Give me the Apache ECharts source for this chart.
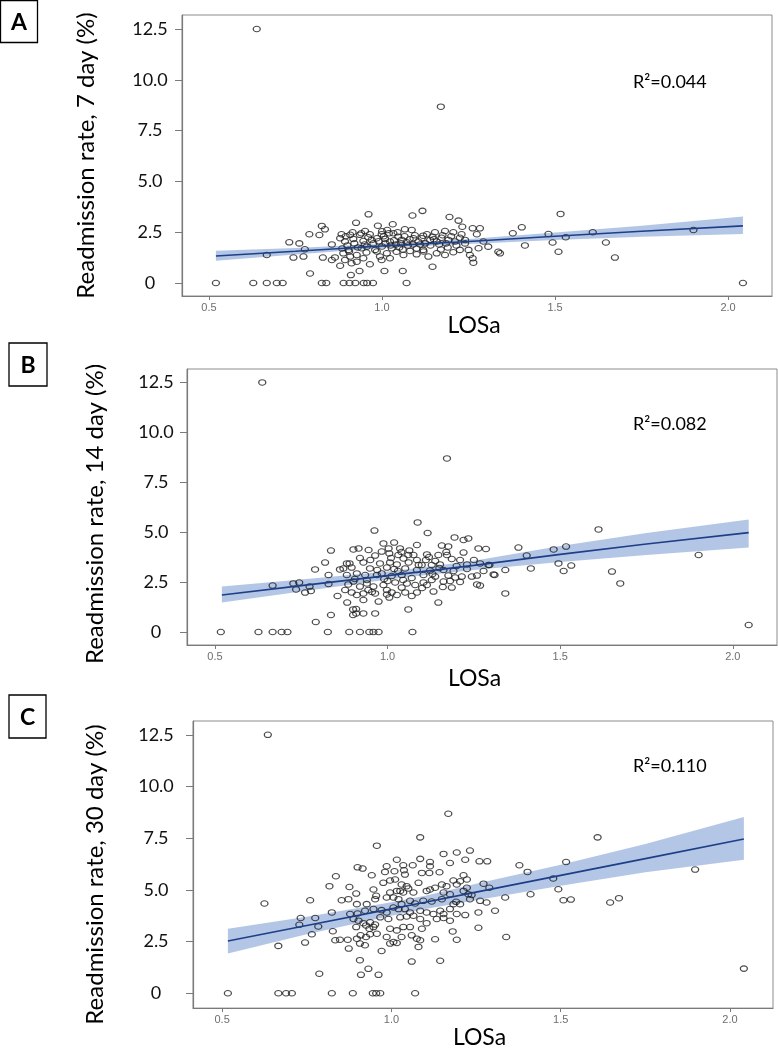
<!DOCTYPE html>
<html><head><meta charset="utf-8">
<script src="https://cdn.jsdelivr.net/npm/echarts@6/dist/echarts.min.js"></script>
<style>html,body{margin:0;padding:0;background:#fff}#chart{width:778px;height:1050px}</style>
</head><body><div id="chart"></div>
<script>
// ---------- data ----------
const yTickValues = [0, 2.5, 5, 7.5, 10, 12.5];
const yTickLabels = ['0', '2.5', '5.0', '7.5', '10.0', '12.5'];
const xTickValues = [0.5, 1.0, 1.5, 2.0];
const xTickLabels = ['0.5', '1.0', '1.5', '2.0'];
const panelLetters = ['A', 'B', 'C'];
const yTitles = ['Readmission rate, 7 day (%)', 'Readmission rate, 14 day (%)', 'Readmission rate, 30 day (%)'];
const xTitle = 'LOSa';
const r2Labels = ['R\u00b2=0.044', 'R\u00b2=0.082', 'R\u00b2=0.110'];

// [LOSa, readmission rate %]
const pointsA = [
[0.520,0],[0.628,0],[0.667,0],[0.696,0],[0.713,0],[0.826,0],[0.839,0],[0.889,0],[0.906,0],[0.923,0],[0.947,0],[0.957,0],[0.974,0],[1.071,0],[2.043,0],
[0.638,12.5],[1.170,8.68],
[0.667,1.38],[0.732,2.00],[0.761,1.95],[0.744,1.25],[0.773,1.30],[0.777,1.66],[0.790,2.40],[0.819,2.36],[0.792,0.47],[0.826,2.81],[0.835,2.64],[0.829,1.25],[0.855,1.13],[0.864,1.26],
[0.961,3.38],[1.117,3.55],[1.088,3.32],[1.195,3.25],[1.221,3.07],[0.925,2.96],[0.988,2.82],[1.031,2.89],[1.232,2.77],[1.262,2.69],[1.283,2.69],[1.066,2.64],[1.086,2.61],[1.015,2.61],[0.951,2.56],[1.153,2.50],[1.182,2.56],[1.206,2.50],[1.274,2.40],[0.883,2.40],[0.908,2.37],[0.936,2.37],[0.965,2.40],[0.999,2.40],[1.033,2.45],[1.047,2.28],[1.119,2.33],[1.146,2.28],[1.172,2.23],[1.225,2.23],
[0.855,1.90],[0.879,2.20],[0.893,2.04],[0.917,2.17],[0.946,2.07],[0.970,2.12],[0.985,2.20],[1.009,2.17],[1.023,2.04],[1.057,2.12],[1.071,2.00],[1.091,2.20],[1.105,2.04],[1.139,2.12],[1.158,2.04],[1.192,2.12],[1.211,2.04],[1.240,2.12],[1.293,2.04],[1.307,1.79],[1.279,1.71],[1.250,1.63],
[0.888,1.46],[0.903,1.63],[0.908,1.30],[0.927,1.38],[0.941,1.71],[0.956,1.79],[0.980,1.63],[0.994,1.30],[1.014,1.46],[1.028,1.71],[1.042,1.54],[1.062,1.38],[1.081,1.58],[1.100,1.41],[1.119,1.63],[1.134,1.30],[1.158,1.46],[1.182,1.38],[1.206,1.51],[1.225,1.63],[1.254,1.38],[1.262,1.22],[1.264,1.00],[1.341,1.46],[1.336,1.54],
[0.879,0.85],[0.910,0.39],[0.935,0.59],[0.965,0.92],[1.007,0.59],[1.060,0.59],[1.146,0.80],[0.912,0.97],[0.893,1.13],[0.927,1.05],[0.946,1.22],[0.999,1.13],[1.023,1.22],
[1.378,2.45],[1.404,2.74],[1.413,1.85],[1.481,2.41],[1.493,1.99],[1.510,1.54],[1.516,3.40],[1.531,2.25],[1.609,2.50],[1.647,1.99],[1.673,1.25],[1.900,2.61],
[0.900,1.85],[0.920,1.95],[0.930,1.75],[0.950,1.90],[0.960,2.25],[0.975,1.95],[0.990,2.05],[1.000,1.80],[1.005,2.30],[1.010,1.95],[1.020,2.45],[1.025,1.85],[1.035,2.10],[1.040,1.90],[1.045,2.50],[1.050,1.75],[1.055,1.95],[1.065,2.30],[1.075,1.85],[1.080,2.15],[1.090,1.90],[1.095,2.35],[1.110,1.90],[1.115,2.20],[1.125,1.95],[1.130,2.40],[1.140,1.85],[1.150,2.15],[1.165,1.90],[1.175,2.35],[1.185,1.95],[1.200,2.30],[1.215,1.85],[1.230,2.40],
[0.885,1.70],[0.895,2.30],[0.905,1.55],[0.915,2.50],[0.940,2.45],[0.955,1.50],[0.985,1.55],[1.000,2.55],[1.060,1.65],[1.100,1.70],[1.120,1.55],[1.170,1.65],[1.190,1.75],[1.240,1.95]
];

const pointsB = [
[0.517,0],[0.626,0],[0.667,0],[0.693,0],[0.710,0],[0.827,0],[0.889,0],[0.920,0],[0.947,0],[0.959,0],[0.974,0],[1.072,0],
[0.637,12.48],[1.172,8.68],[2.046,0.35],
[0.667,2.32],[0.727,2.43],[0.744,2.47],[0.735,2.13],[0.761,1.97],[0.774,2.27],[0.778,2.05],[0.790,3.13],[0.792,0.50],[0.819,3.47],[0.836,4.07],[0.829,2.85],[0.829,2.40],[0.836,0.85],[0.855,1.80],[0.862,3.13],[0.901,4.13],[0.916,4.18],[0.945,4.10],[0.962,5.07],[0.890,3.43],[0.883,1.47],[0.900,1.13],[0.900,0.85],[0.930,0.93],[0.964,0.93],[0.974,1.52],
[1.087,5.48],[1.116,4.95],[1.194,4.73],[1.220,4.60],[1.234,4.68],[0.988,4.43],[1.019,4.47],[1.085,4.35],[1.157,4.32],[1.176,4.28],[1.003,4.18],[1.036,4.18],[1.063,4.08],[1.263,4.18],[1.285,4.15],
[0.983,4.02],[1.005,3.93],[1.031,3.85],[1.075,3.85],[1.114,3.88],[1.147,3.85],[1.172,3.85],[1.220,3.97],[0.964,3.82],[1.046,3.68],[1.085,3.60],[1.111,3.60],[1.138,3.55],[1.186,3.65],[1.210,3.60],
[0.882,3.43],[0.930,3.48],[0.978,3.43],[1.007,3.48],[1.027,3.38],[1.061,3.48],[1.099,3.35],[1.128,3.35],[1.152,3.38],[1.230,3.38],[1.268,3.43],[1.295,3.35],
[0.872,3.18],[0.896,3.22],[0.949,3.18],[0.998,3.22],[1.019,3.15],[1.051,3.18],[1.085,3.10],[1.123,3.07],[1.162,3.10],[1.191,3.05],[1.230,3.15],[1.278,3.05],[1.307,2.88],
[0.882,2.85],[0.911,2.93],[0.935,2.85],[0.969,2.85],[0.983,2.93],[1.012,2.80],[1.041,2.85],[1.104,2.85],[1.138,2.77],[1.176,2.82],[1.196,2.72],[1.215,2.77],[1.244,2.77],[1.259,2.82],
[0.886,2.38],[0.901,2.52],[0.920,2.27],[0.940,2.43],[0.959,2.27],[0.988,2.35],[0.998,2.10],[1.022,2.48],[1.041,2.22],[1.056,2.43],[1.080,2.35],[1.104,2.48],[1.114,2.35],[1.128,2.60],[1.162,2.52],[1.181,2.55],[1.259,2.38],[1.268,2.32],
[0.877,2.10],[0.896,1.98],[0.911,1.85],[0.930,1.93],[0.944,2.10],[0.964,1.93],[0.998,1.88],[1.012,1.98],[1.027,1.85],[1.051,1.98],[1.085,1.98],[1.133,2.02],[1.186,2.22],
[0.930,1.60],[1.005,1.72],[1.070,1.80],[1.147,1.47],[1.341,1.93],[0.909,1.15],[0.909,0.93],[1.060,1.13],
[1.379,4.22],[1.403,3.82],[1.415,3.18],[1.341,3.10],[1.310,2.85],[1.292,3.35],[1.481,4.13],[1.495,3.43],[1.510,3.05],[1.517,4.27],[1.532,3.32],[1.611,5.13],[1.650,3.02],[1.674,2.43],[1.901,3.85],
[0.950,3.60],[0.970,3.10],[0.990,2.65],[1.010,3.70],[1.030,3.05],[1.045,2.60],[1.060,3.85],[1.070,2.70],[1.090,3.35],[1.100,2.20],[1.120,3.75],[1.130,2.90],[1.150,3.20],[1.160,2.25],[1.170,4.00],[1.200,3.30],[1.210,2.50],[1.250,3.60],[0.920,3.70],[0.905,2.65],[0.940,2.60],[0.955,2.00],[1.000,2.55],[1.040,4.00]
];

const pointsC = [
[0.517,0],[0.666,0],[0.689,0],[0.706,0],[0.824,0],[0.886,0],[0.945,0],[0.955,0],[0.967,0],[1.070,0],
[0.635,12.5],[1.168,8.68],[2.041,1.19],[0.625,4.34],[0.957,7.14],
[1.154,6.74],[1.193,6.81],[1.232,6.90],[0.900,6.09],[0.915,6.03],[0.986,6.14],[1.016,6.46],[1.035,6.19],[1.063,6.19],[1.085,6.50],[1.114,6.35],[1.114,6.14],[1.173,6.30],[1.218,6.46],[1.260,6.38],[1.283,6.38],
[0.836,5.66],[0.942,5.71],[0.981,5.87],[1.009,5.90],[1.037,5.95],[1.040,5.74],[1.090,5.82],[1.112,5.82],[1.142,5.85],[1.213,5.71],[1.183,5.45],[1.203,5.42],[1.223,5.50],[1.193,5.26],[1.223,5.10],
[0.817,5.18],[0.876,5.14],[0.947,5.02],[0.976,5.34],[0.996,5.45],[1.011,5.50],[1.030,5.26],[1.045,5.18],[1.050,5.07],[1.026,4.95],[1.080,5.34],[1.104,4.95],[1.129,5.10],[1.149,5.26],[1.163,5.18],[1.114,5.02],[1.272,5.30],[1.289,5.10],[1.336,4.63],
[0.996,4.87],[1.016,4.95],[1.035,4.87],[1.065,4.87],[1.154,4.87],[1.173,4.79],[1.213,4.95],[1.227,4.79],[1.237,4.75],[1.262,4.47],[1.232,4.55],[1.281,4.39],
[0.760,4.50],[0.853,4.50],[0.873,4.55],[0.896,4.82],[0.898,4.31],[0.927,4.31],[0.952,4.55],[0.955,4.71],[0.986,4.63],[1.006,4.63],[1.021,4.55],[1.030,4.31],[1.055,4.47],[1.070,4.34],[1.094,4.47],[1.119,4.44],[1.149,4.55],[1.183,4.31],[1.203,4.31],[1.191,4.42],
[0.824,3.91],[0.878,3.83],[0.900,3.86],[0.922,3.99],[0.947,4.07],[0.971,4.02],[0.986,3.91],[1.006,4.15],[1.021,4.07],[1.040,4.07],[1.055,3.91],[1.085,3.99],[1.104,3.91],[1.124,3.83],[1.144,3.99],[1.154,3.83],[1.173,4.07],[1.193,3.83],[1.218,3.78],[1.257,3.91],[1.306,3.99],
[0.732,3.64],[0.775,3.64],[0.827,3.00],[0.888,3.59],[0.903,3.51],[0.917,3.39],[0.937,3.43],[0.967,3.67],[0.991,3.59],[1.026,3.67],[1.045,3.71],[1.065,3.75],[1.085,3.59],[1.104,3.39],[1.134,3.59],[1.154,3.64],[1.173,3.51],
[0.728,3.31],[0.784,3.23],[0.896,3.20],[0.925,3.28],[0.935,3.12],[0.947,3.20],[0.952,3.32],[0.996,3.12],[1.016,3.04],[1.035,3.20],[1.055,3.20],[1.090,3.12],[1.257,3.17],[1.181,2.99],
[0.765,2.85],[0.871,2.59],[0.898,2.64],[0.909,2.80],[0.925,2.72],[0.937,2.85],[0.957,2.88],[0.986,2.72],[1.006,2.48],[1.030,2.72],[1.060,2.80],[1.075,2.64],[1.085,2.56],[1.129,2.61],[0.848,2.59],[0.834,2.56],
[0.745,2.45],[0.666,2.29],[0.907,2.40],[0.922,2.32],[0.996,2.40],[1.016,2.43],[1.080,2.24],[1.193,2.59],
[0.874,2.16],[0.971,2.04],[0.907,1.60],[1.060,1.53],[1.144,1.57],[0.910,0.89],[0.932,1.18],[0.962,0.89],[0.787,0.94],[1.339,2.72],
[1.085,7.54],[1.609,7.54],[1.378,6.19],[1.402,5.87],[1.516,6.35],[1.478,5.55],[1.493,5.03],[1.411,4.79],[1.508,4.50],[1.530,4.53],[1.646,4.39],[1.672,4.60],[1.897,5.98]
];

// fitted regression line and 95% band: [LOSa, fit, lower, upper]
const fitA = [[0.520,1.33,1.10,1.59],[0.750,1.56,1.40,1.72],[1.000,1.82,1.72,1.93],[1.100,1.91,1.81,2.01],[1.250,2.04,1.92,2.16],[1.500,2.30,2.12,2.48],[1.750,2.55,2.28,2.82],[2.043,2.81,2.41,3.27]];
const fitB = [[0.520,1.85,1.47,2.27],[0.750,2.32,2.02,2.62],[1.000,2.82,2.62,3.02],[1.100,3.02,2.83,3.22],[1.250,3.33,3.10,3.56],[1.500,3.88,3.50,4.30],[1.750,4.40,3.85,4.95],[2.046,4.97,4.22,5.63]];
const fitC = [[0.517,2.53,1.92,3.12],[0.750,3.28,2.85,3.70],[1.000,4.08,3.75,4.40],[1.100,4.40,4.08,4.72],[1.250,4.89,4.50,5.30],[1.500,5.70,5.20,6.22],[1.750,6.51,5.85,7.22],[2.041,7.46,6.46,8.52]];

// ---------- layout ----------
const FONT = "Lato, 'Open Sans', sans-serif";
const layouts = [
  {grid:{left:182, top:15, width:590, height:281}, x:[0.422,2.127], y:[-0.64,13.19], yLabelMargin:32, yNameGap:84, yNamePad:[0,0,0,0], xNameGap:12, xNamePad:[0,6,0,0], box:[0.5,0.5,37,42], r2:[633,82]},
  {grid:{left:187, top:369, width:590, height:276}, x:[0.419,2.128], y:[-0.65,13.15], yLabelMargin:31, yNameGap:80, yNamePad:[0,14,0,0], xNameGap:22, xNamePad:[0,15,0,0], box:[9,343,38,43], r2:[633,424]},
  {grid:{left:193, top:721, width:580, height:291}, x:[0.414,2.127], y:[-0.72,13.17], yLabelMargin:37, yNameGap:86, yNamePad:[0,20,0,0], xNameGap:16, xNamePad:[0,7,0,0], box:[9,695,37,43], r2:[633,766]}
];
const pointSets = [pointsA, pointsB, pointsC];
const fitSets = [fitA, fitB, fitC];

function lookup(values, labels, v) {
  for (let i = 0; i < values.length; i++) if (Math.abs(values[i] - v) < 1e-9) return labels[i];
  return '';
}

const grids = [], xAxes = [], yAxes = [], series = [], graphics = [];
layouts.forEach((L, i) => {
  grids.push(Object.assign({show:true, borderColor:'#8c8c8c', borderWidth:1, backgroundColor:'rgba(0,0,0,0)'}, L.grid));
  xAxes.push({
    gridIndex:i, type:'value', min:L.x[0], max:L.x[1],
    axisLine:{show:true, onZero:false, lineStyle:{color:'#7a7a7a', width:1.2}},
    axisTick:{show:true, customValues:xTickValues, length:4, lineStyle:{color:'#7a7a7a'}},
    axisLabel:{show:true, customValues:xTickValues, formatter:v => lookup(xTickValues, xTickLabels, v), color:'#6e6e6e', fontSize:11, fontFamily:"'Liberation Sans', Arial, sans-serif", margin:6},
    splitLine:{show:false},
    name:xTitle, nameLocation:'middle', nameGap:L.xNameGap,
    nameTextStyle:{fontFamily:FONT, fontSize:23, color:'#000', padding:L.xNamePad}
  });
  yAxes.push({
    gridIndex:i, type:'value', min:L.y[0], max:L.y[1],
    axisLine:{show:true, onZero:false, lineStyle:{color:'#7a7a7a', width:1.2}},
    axisTick:{show:true, customValues:yTickValues, length:7, lineStyle:{color:'#7a7a7a'}},
    axisLabel:{show:true, customValues:yTickValues, formatter:v => lookup(yTickValues, yTickLabels, v), color:'#111', fontSize:18, fontFamily:FONT, align:'center', margin:L.yLabelMargin},
    splitLine:{show:false},
    name:yTitles[i], nameLocation:'middle', nameRotate:90, nameGap:L.yNameGap,
    nameTextStyle:{fontFamily:FONT, fontSize:24, color:'#000', padding:L.yNamePad}
  });
  const fit = fitSets[i];
  series.push({
    type:'custom', xAxisIndex:i, yAxisIndex:i, silent:true, z:1,
    data: fit.map(r => [r[0], r[2], r[3]]),
    encode:{x:0, y:[1,2]},
    renderItem: function (params, api) {
      if (params.dataIndex !== 0) return null;
      const pts = [];
      for (let k = 0; k < fit.length; k++) pts.push(api.coord([fit[k][0], fit[k][3]]));
      for (let k = fit.length - 1; k >= 0; k--) pts.push(api.coord([fit[k][0], fit[k][2]]));
      return {type:'polygon', shape:{points:pts}, style:{fill:'rgba(118,152,208,0.55)'}};
    }
  });
  series.push({
    type:'scatter', xAxisIndex:i, yAxisIndex:i, z:2,
    data: pointSets[i], symbol:'circle', symbolSize:[7,5.5],
    itemStyle:{color:'rgba(255,255,255,0)', borderColor:'#1e1e1e', borderWidth:1.15}
  });
  series.push({
    type:'line', xAxisIndex:i, yAxisIndex:i, z:4,
    data: fit.map(r => [r[0], r[1]]), showSymbol:false, symbol:'none',
    lineStyle:{color:'#1d3f88', width:1.6}
  });
  const b = L.box;
  graphics.push({type:'rect', shape:{x:b[0], y:b[1], width:b[2], height:b[3]}, style:{fill:'#fff', stroke:'#000', lineWidth:1.3}, z:10});
  graphics.push({type:'text', x:b[0] + b[2]/2, y:b[1] + b[3]/2 + 1, z:11,
    style:{text:panelLetters[i], font:"bold 23px " + FONT, fill:'#000', align:'center', verticalAlign:'middle', textAlign:'center', textVerticalAlign:'middle'}});
  graphics.push({type:'text', x:L.r2[0], y:L.r2[1], z:11,
    style:{text:r2Labels[i], font:"18px " + FONT, fill:'#000', align:'left', verticalAlign:'middle', textAlign:'left', textVerticalAlign:'middle'}});
});

const chart = echarts.init(document.getElementById('chart'), null, {renderer:'canvas'});
chart.setOption({
  animation:false,
  backgroundColor:'#fff',
  grid:grids, xAxis:xAxes, yAxis:yAxes, series:series,
  graphic:{elements:graphics}
});
</script>
</body></html>
